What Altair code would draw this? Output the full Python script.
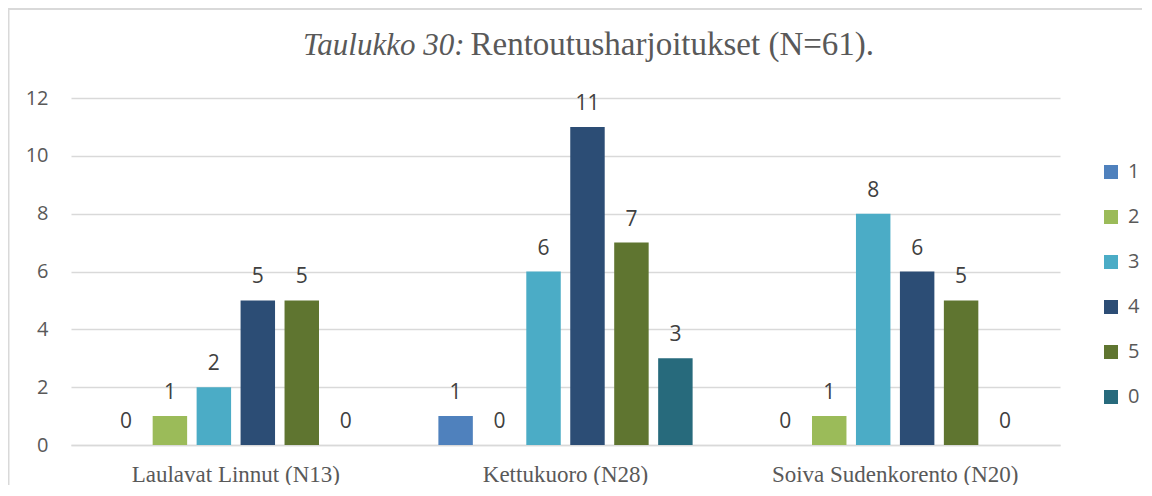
import altair as alt
import pandas as pd

categories = ["Laulavat Linnut (N13)", "Kettukuoro (N28)", "Soiva Sudenkorento (N20)"]
series = ["1", "2", "3", "4", "5", "0"]
s1 = [0, 1, 0]
s2 = [1, 0, 1]
s3 = [2, 6, 8]
s4 = [5, 11, 6]
s5 = [5, 7, 5]
s0 = [0, 3, 0]
colors = ["#4F81BD", "#9BBB59", "#4BACC6", "#2C4D75", "#5F7530", "#276A7C"]
y_ticks = [0, 2, 4, 6, 8, 10, 12]
title_italic = "Taulukko 30:"
title_rest = "Rentoutusharjoitukset (N=61)."

SERIF = "Times New Roman"
PLOT_H = 347

rows = []
for name, vals in zip(series, [s1, s2, s3, s4, s5, s0]):
    for c, v in zip(categories, vals):
        rows.append({"cat": c, "ser": name, "val": v})
df = pd.DataFrame(rows)

x_enc = alt.X("cat:N", sort=categories, title=title_rest,
              scale=alt.Scale(paddingInner=0.2, paddingOuter=0.1),
              axis=alt.Axis(labelFont=SERIF, labelFontSize=23, labelColor="#595959",
                            labelAngle=0, ticks=False, tickSize=0, labelPadding=36,
                            labelBaseline="alphabetic", labelLimit=0,
                            domainColor="#d9d9d9", domainWidth=1.5, grid=False,
                            titleFont=SERIF, titleFontSize=33, titleFontWeight="normal",
                            titleColor="#595959", titleX=399, titleY=-44 - PLOT_H,
                            titleAlign="left", titleAnchor="start", titleBaseline="alphabetic",
                            titleLimit=0))
xo_enc = alt.XOffset("ser:N", sort=series,
                     scale=alt.Scale(paddingInner=0.216, paddingOuter=0.108))
y_enc = alt.Y("val:Q", title=title_italic,
              scale=alt.Scale(domain=[0, 12], nice=False),
              axis=alt.Axis(values=y_ticks, labelFont="Open Sans", labelFontSize=20,
                            labelColor="#595959", domain=False, ticks=False, labelPadding=23,
                            gridColor="#d9d9d9", gridWidth=1.5,
                            titleFont=SERIF, titleFontSize=31, titleFontWeight="normal",
                            titleFontStyle="italic", titleColor="#595959", titleAngle=0,
                            titleX=393, titleY=-44, titleAlign="right", titleAnchor="start",
                            titleBaseline="alphabetic", titleLimit=0))

base = alt.Chart(df)
bars = base.mark_bar().encode(
    x=x_enc, xOffset=xo_enc, y=y_enc,
    color=alt.Color("ser:N", sort=series,
                    scale=alt.Scale(domain=series, range=colors),
                    legend=alt.Legend(title=None, orient="none", legendX=1030, legendY=64,
                                      symbolType="square", symbolSize=196, symbolStrokeWidth=0,
                                      symbolOpacity=1, labelFont="Open Sans", labelFontSize=20,
                                      labelColor="#595959", labelOffset=7, rowPadding=25,
                                      padding=0)),
)
labels = base.mark_text(font="Open Sans", fontSize=21, color="#404040",
                        baseline="alphabetic", dy=-17).encode(
    x=x_enc, xOffset=xo_enc, y=y_enc, text="val:Q")

bdf = pd.DataFrame({"k": [0]})
border_l = alt.Chart(bdf).mark_rule(color="#d9d9d9", strokeWidth=2).encode(
    x=alt.value(-62.5), y=alt.value(-89), y2=alt.value(420))
border_t = alt.Chart(bdf).mark_rule(color="#d9d9d9", strokeWidth=2).encode(
    x=alt.value(-63.5), x2=alt.value(1100), y=alt.value(-89))

chart = alt.layer(bars, labels, border_l, border_t).properties(
    width=989, height=PLOT_H,
    padding={"left": 63, "top": 90, "right": 82, "bottom": 40},
    autosize=alt.AutoSizeParams(type="none"),
).configure_view(stroke=None)

chart.save("out.html", embed_options={"renderer": "svg", "actions": False})
